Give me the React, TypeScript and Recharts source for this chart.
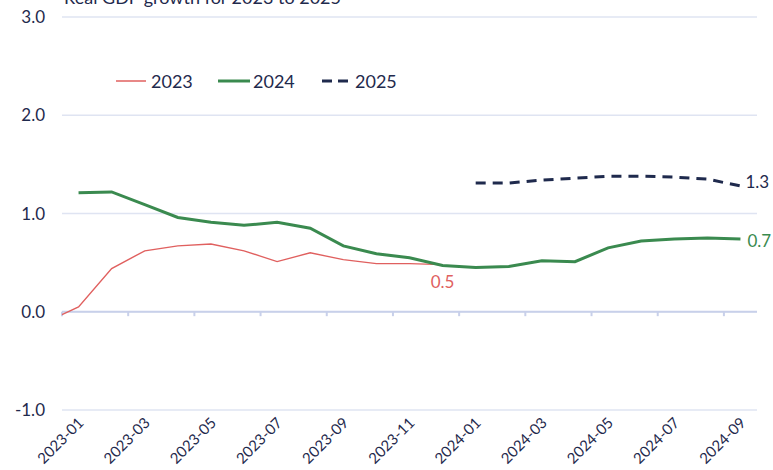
import { LineChart, Line, XAxis, YAxis, CartesianGrid, ReferenceLine, LabelList } from 'recharts';

// months counted from 2023-01 (0 = start of Jan 2023, 0.5 = mid-month)
const tickMonths = [0, 2, 4, 6, 8, 10, 12, 14, 16, 18, 20];
const tickLabels = ['2023-01', '2023-03', '2023-05', '2023-07', '2023-09', '2023-11', '2024-01', '2024-03', '2024-05', '2024-07', '2024-09'];
const yTicks = [-1, 0, 1, 2, 3];

const months2023 = [0, 0.5, 1.5, 2.5, 3.5, 4.5, 5.5, 6.5, 7.5, 8.5, 9.5, 10.5, 11.5];
const growth2023 = [-0.03, 0.05, 0.44, 0.62, 0.67, 0.69, 0.62, 0.51, 0.6, 0.53, 0.49, 0.49, 0.48];

const months2024 = [0.5, 1.5, 2.5, 3.5, 4.5, 5.5, 6.5, 7.5, 8.5, 9.5, 10.5, 11.5, 12.5, 13.5, 14.5, 15.5, 16.5, 17.5, 18.5, 19.5, 20.5];
const growth2024 = [1.21, 1.22, 1.09, 0.96, 0.91, 0.88, 0.91, 0.85, 0.67, 0.59, 0.55, 0.47, 0.45, 0.46, 0.52, 0.51, 0.65, 0.72, 0.74, 0.75, 0.74];

const months2025 = [12.5, 13.5, 14.5, 15.5, 16.5, 17.5, 18.5, 19.5, 20.5];
const growth2025 = [1.31, 1.31, 1.34, 1.36, 1.38, 1.38, 1.37, 1.35, 1.28];

const toRows = (ts: number[], vs: number[]) => ts.map((t, i) => ({ t, v: vs[i] }));
const data2023 = toRows(months2023, growth2023);
const data2024 = toRows(months2024, growth2024);
const data2025 = toRows(months2025, growth2025);

const NAVY = '#1f2a4d';
const RED = '#e0605f';
const GREEN = '#3a8a4f';
const GRID = '#dfe4f2';
const AXIS = '#c8d0ea';
const FONT = 'Lato, "Open Sans", sans-serif';

const XTick = (props: any) => {
  const { x, y, payload } = props;
  const idx = tickMonths.indexOf(payload.value);
  return (
    <g transform={`translate(${x - 2},${y + 22})`}>
      <text transform="rotate(-45)" textAnchor="middle" dominantBaseline="central" fill={NAVY} fontSize={15} fontFamily={FONT}>
        {idx >= 0 ? tickLabels[idx] : ''}
      </text>
    </g>
  );
};

const endLabel = (count: number, color: string, dx: number, dy: number, anchor: string) => (props: any) => {
  const { x, y, value, index } = props;
  if (index !== count - 1) return null;
  return (
    <text x={x + dx} y={y + dy} fill={color} fontSize={17} fontFamily={FONT} textAnchor={anchor} dominantBaseline="central">
      {value.toFixed(1)}
    </text>
  );
};

const LegendBox = () => {
  const item = (left: number, label: string, swatch: any) => (
    <div style={{ position: 'absolute', left, top: 0, display: 'flex', alignItems: 'center', height: 24 }}>
      <svg width={32} height={6} style={{ marginRight: 3 }}>{swatch}</svg>
      <span style={{ color: NAVY, fontSize: 18, fontFamily: FONT }}>{label}</span>
    </div>
  );
  return (
    <div style={{ position: 'absolute', left: 0, top: 69, width: 773, height: 24 }}>
      {item(116, '2023', <line x1={0} y1={3} x2={30} y2={3} stroke={RED} strokeWidth={1.5} />)}
      {item(218, '2024', <line x1={0} y1={3} x2={32} y2={3} stroke={GREEN} strokeWidth={3} />)}
      {item(320, '2025', <line x1={2} y1={3} x2={32} y2={3} stroke={NAVY} strokeWidth={3} strokeDasharray="10 6" />)}
    </div>
  );
};

export default function App() {
  return (
    <div style={{ position: 'absolute', left: 0, top: 0, width: 773, height: 470, overflow: 'hidden', background: '#fff' }}>
      <LineChart width={773} height={470} margin={{ top: 17, right: 16, bottom: 30, left: 0 }}>
        <CartesianGrid horizontal vertical={false} stroke={GRID} strokeWidth={1.5} />
        <XAxis
          type="number"
          dataKey="t"
          domain={[0, 21]}
          ticks={tickMonths}
          interval={0}
          allowDuplicatedCategory={false}
          axisLine={false}
          tickLine={false}
          tick={<XTick />}
        />
        <YAxis
          type="number"
          domain={[-1, 3]}
          ticks={yTicks}
          width={62}
          axisLine={false}
          tickLine={false}
          tickSize={0}
          tickMargin={17}
          tickFormatter={(v: number) => v.toFixed(1)}
          tick={{ fill: NAVY, fontSize: 17, fontFamily: FONT }}
        />
        <ReferenceLine y={0} stroke={AXIS} strokeWidth={2} />
        {tickMonths.map((m) => (
          <ReferenceLine key={m} segment={[{ x: m, y: 0 }, { x: m, y: -0.045 }]} stroke={AXIS} strokeWidth={2} />
        ))}
        <Line data={data2023} dataKey="v" type="linear" stroke={RED} strokeWidth={1.4} dot={false} isAnimationActive={false}>
          <LabelList dataKey="v" content={endLabel(data2023.length, RED, 0, 17, 'middle')} />
        </Line>
        <Line data={data2024} dataKey="v" type="linear" stroke={GREEN} strokeWidth={3} dot={false} isAnimationActive={false}>
          <LabelList dataKey="v" content={endLabel(data2024.length, GREEN, 7, 1, 'start')} />
        </Line>
        <Line data={data2025} dataKey="v" type="linear" stroke={NAVY} strokeWidth={3} strokeDasharray="10 7" dot={false} isAnimationActive={false}>
          <LabelList dataKey="v" content={endLabel(data2025.length, NAVY, 5, -4, 'start')} />
        </Line>
      </LineChart>
      <div style={{ position: 'absolute', left: 64, top: -14, color: NAVY, fontSize: 18, fontFamily: FONT, whiteSpace: 'nowrap' }}>
        Real GDP growth for 2023 to 2025
      </div>
      <LegendBox />
    </div>
  );
}
